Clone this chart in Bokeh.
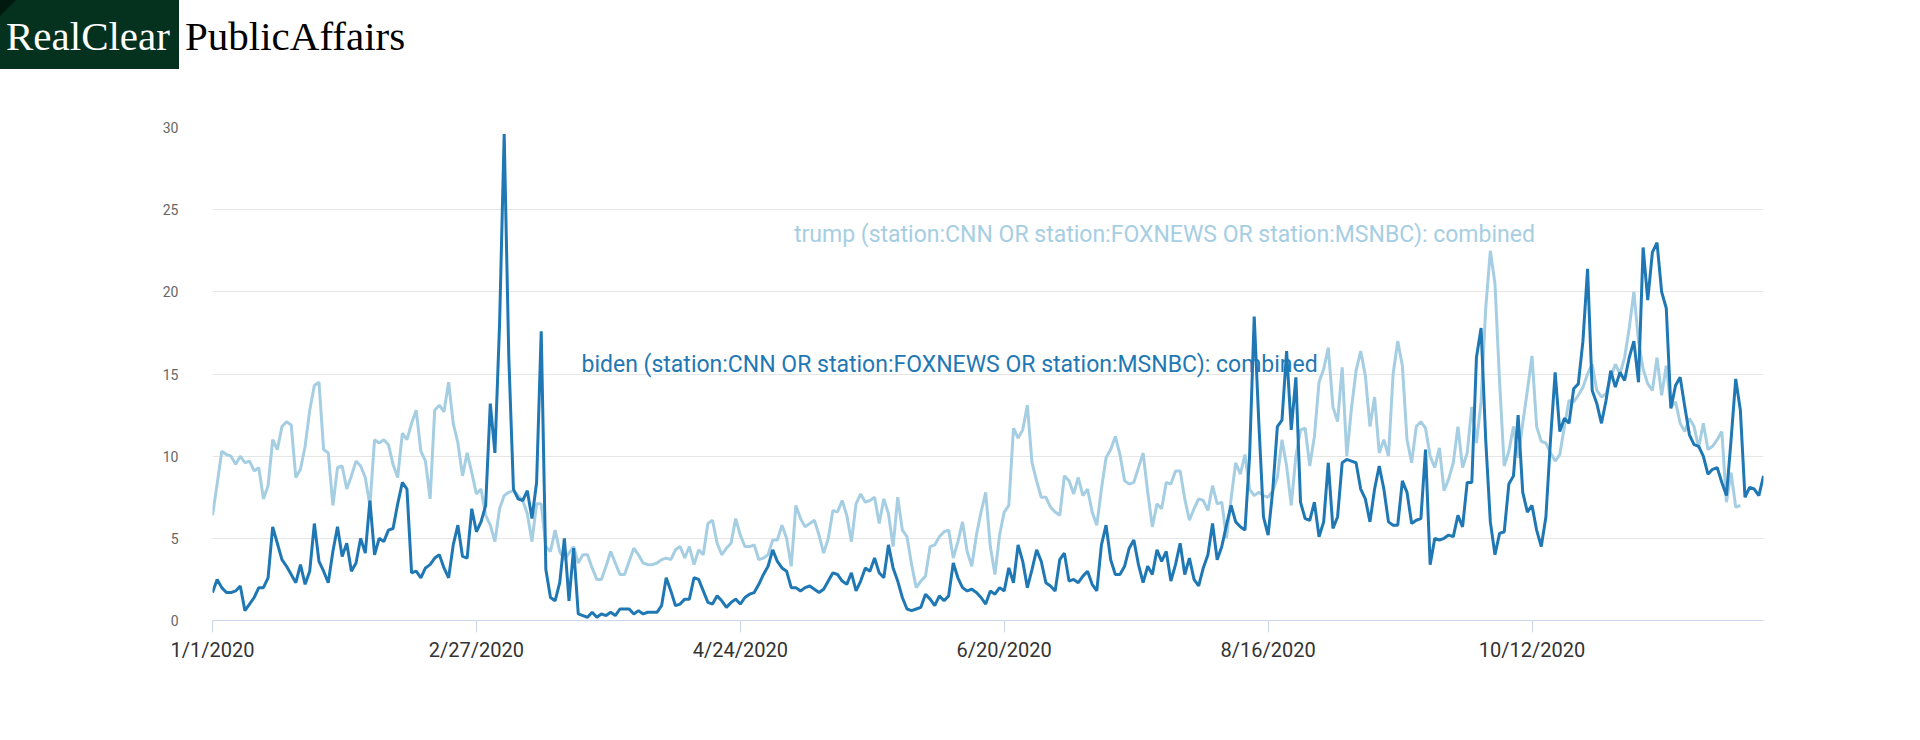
from bokeh.plotting import figure
from bokeh.models import Div, Label, FixedTicker, Range1d
from bokeh.layouts import column
from bokeh.embed import file_html
from bokeh.resources import INLINE

biden = [1.7, 2.5, 2.0, 1.7, 1.7, 1.8, 2.1, 0.6, 1.0, 1.4, 2.0, 2.0, 2.6, 5.7, 4.7, 3.7, 3.3, 2.8, 2.3, 3.4, 2.2, 3.0, 5.9, 3.6, 3.0, 2.3, 4.2, 5.7, 3.9, 4.7, 3.0, 3.5, 5.0, 4.1, 7.3, 4.0, 5.0, 4.8, 5.5, 5.6, 7.1, 8.4, 8.0, 2.9, 3.0, 2.6, 3.2, 3.4, 3.8, 4.0, 3.2, 2.6, 4.6, 5.8, 3.9, 3.8, 6.8, 5.4,
         6.0, 7.0, 13.2, 10.2, 18, 29.6, 16, 8, 7.4, 7.3, 7.9, 6.2, 8.4, 17.6, 3.1, 1.4, 1.2, 2.3, 5.0, 1.2, 4.4, 0.4, 0.3, 0.2, 0.5, 0.2, 0.4, 0.3, 0.5, 0.3, 0.7, 0.7, 0.7, 0.4, 0.6, 0.4, 0.5, 0.5, 0.5, 0.9, 2.6, 1.8, 0.9, 1.0, 1.3, 1.3, 2.6, 2.5, 1.8, 1.1, 1.0, 1.5, 1.2, 0.8, 1.1, 1.3, 1.0, 1.4, 1.6, 1.7, 2.2, 2.8, 3.3, 4.3, 3.6, 3.2, 3.0, 2.0, 2.0, 1.8, 2.0, 2.1, 1.9, 1.7, 1.9, 2.4, 2.9, 2.8, 2.4, 2.2, 2.9, 1.8, 2.4, 3.2, 3.0, 3.8, 2.9, 2.6, 4.6, 3.2, 2.4, 1.4, 0.7, 0.6, 0.7, 0.8, 1.6, 1.3, 0.9, 1.5, 1.2, 1.5, 3.5, 2.6, 2.0, 1.8, 1.9, 1.7, 1.4, 1.0, 1.8, 1.6, 2.0, 1.8, 3.2, 2.3, 4.6, 3.6, 2.0, 3.1, 4.3, 3.6, 2.3, 2.1, 1.8, 3.7, 4.1, 2.4, 2.5, 2.3, 2.7, 3.0, 2.2, 1.8, 4.6, 5.8, 3.7, 2.8, 2.8, 3.3, 4.4, 4.9, 3.4, 2.3, 3.3, 2.8, 4.3, 3.6, 4.2, 2.4, 3.4, 4.7, 2.8, 3.8, 2.5, 2.1, 3.2, 4.0, 5.9, 3.7, 4.5, 5.8, 7.0, 6.0, 5.7, 5.5, 10.0, 18.5, 12.0, 6.3, 5.2, 7.9, 11.8, 12.2, 16.4, 11.6, 14.8, 7.2, 6.2, 6.1, 7.2, 5.1, 6.0, 9.6, 5.6, 6.3, 9.6, 9.8, 9.7, 9.6, 8.0, 7.4, 6.0, 8.0, 9.4, 8.0, 6.0, 5.8, 5.8, 8.5, 7.8, 5.9, 6.1, 6.2, 10.4, 3.4, 5.0, 4.9, 5.0, 5.2, 5.1, 6.4, 5.7, 8.4, 8.4, 16.0, 17.8, 11.0, 6.0, 4.0, 5.3, 5.4, 8.3, 8.8, 12.5, 7.8, 6.6, 7.0, 5.5, 4.5, 6.3, 11.0, 15.1, 11.5, 12.3, 12.0, 14.1, 14.4, 17.0, 21.4, 14.0, 13.2, 12.0, 13.4, 15.2, 14.2, 15.1, 14.6, 16.0, 17.0, 14.5, 22.7, 19.5, 22.4, 23.0, 20.0, 19.0, 12.9, 14.3, 14.8, 13.0, 11.3, 10.7, 10.6, 10.0, 8.9, 9.2, 9.3, 8.4, 7.6, 11.0, 14.7, 12.8, 7.5, 8.1, 8.0, 7.6, 8.8]

trump = [6.4, 8.3, 10.3, 10.1, 10.0, 9.5, 10.0, 9.6, 9.7, 9.1, 9.3, 7.4, 8.2, 11.0, 10.4, 11.8, 12.1, 11.9, 8.7, 9.2, 10.6, 12.8, 14.3, 14.5, 10.4, 10.2, 7.0, 9.3, 9.4, 8.0, 8.8, 9.7, 9.4, 8.7, 7.0, 11.0, 10.8, 11.0, 10.7, 9.5, 8.7, 11.4, 11.0, 12.0, 12.8, 10.3, 9.7, 7.4, 12.8, 13.1, 12.7, 14.5, 12.0, 10.8, 8.8, 10.2, 9.0, 7.7, 8.0, 6.4, 5.8, 4.8, 6.8, 7.6, 7.8, 7.9, 7.6, 7.3, 6.5, 4.8, 7.1, 7.1, 4.5, 4.2, 5.5, 4.2, 3.7, 4.1, 4.5, 3.5, 4.0, 4.0, 3.2, 2.5, 2.5, 3.3, 4.2, 3.5, 2.8, 2.8, 3.6, 4.4, 4.0, 3.5, 3.4, 3.4, 3.5, 3.7, 3.8, 3.7, 4.3, 4.5, 3.8, 4.5, 3.4, 4.3, 4.0, 5.9, 6.1, 4.7, 4.0, 4.4, 4.7, 6.2, 5.2, 4.5, 4.5, 4.6, 3.7, 3.8, 4.0, 4.9, 4.9, 5.8, 5.0, 3.3, 7.0, 6.2, 5.7, 5.9, 6.1, 5.2, 4.1, 5.0, 6.7, 6.6, 7.3, 6.4, 4.8, 7.1, 7.7, 7.2, 7.3, 7.5, 5.9, 7.4, 6.5, 4.5, 7.5, 5.5, 5.1, 3.4, 2.0, 2.4, 2.7, 4.5, 4.6, 5.1, 5.4, 5.5, 3.8, 4.8, 6.0, 4.2, 3.3, 5.2, 6.6, 7.8, 4.5, 2.8, 5.2, 6.6, 7.0, 11.7, 11.1, 11.6, 13.1, 9.6, 8.5, 7.5, 7.5, 6.9, 6.6, 6.4, 8.8, 8.5, 7.7, 8.7, 7.6, 8.0, 6.6, 5.8, 8.0, 9.9, 10.4, 11.2, 10.1, 8.5, 8.3, 8.4, 9.3, 10.2, 7.8, 5.7, 7.1, 6.8, 8.4, 8.3, 9.1, 9.1, 7.4, 6.1, 6.8, 7.4, 7.3, 6.7, 8.2, 7.1, 7.2, 5.0, 7.4, 9.6, 8.9, 10.1, 8.0, 7.6, 7.8, 7.6, 7.5, 7.9, 8.7, 11.0, 9.4, 7.0, 10.0, 11.6, 11.7, 9.4, 11.2, 14.5, 15.3, 16.6, 13.0, 12.1, 15.4, 10.0, 12.9, 15.2, 16.4, 14.9, 11.8, 13.6, 10.2, 11.0, 10.0, 15.0, 17.0, 15.5, 11.0, 9.6, 11.8, 12.1, 11.7, 10.0, 9.3, 10.5, 7.9, 8.6, 9.6, 11.8, 9.3, 10.2, 13.0, 10.8, 13.3, 19.0, 22.5, 20.5, 14.5, 9.4, 10.3, 11.8, 9.9, 12.0, 14.0, 16.1, 11.8, 10.9, 10.8, 10.2, 9.7, 10.1, 11.8, 13.4, 13.3, 13.7, 14.2, 15.0, 15.6, 14.0, 13.6, 13.8, 14.8, 15.6, 15.0, 16.0, 17.8, 20.0, 17.0, 15.3, 14.4, 14.0, 16.0, 13.7, 15.5, 13.0, 13.3, 12.0, 11.5, 12.3, 11.8, 10.5, 12.0, 10.4, 10.6, 11.0, 11.5, 7.2, 9.0, 6.9, 7.0]

tick_days = [0, 57, 114, 171, 228, 285]
tick_labels = ["1/1/2020", "2/27/2020", "4/24/2020", "6/20/2020", "8/16/2020", "10/12/2020"]
y_ticks = [0, 5, 10, 15, 20, 25, 30]

n = max(len(biden), len(trump))
p = figure(width=1904, height=620, output_backend="svg", toolbar_location=None,
           x_range=Range1d(0, n - 1), y_range=Range1d(0, 30),
           min_border_left=212, min_border_right=141, min_border_top=54, min_border_bottom=73)
p.outline_line_color = None
p.line(list(range(len(trump))), trump, line_color="#a6cee3", line_width=3)
p.line(list(range(len(biden))), biden, line_color="#1f78b4", line_width=3)

p.xaxis.ticker = FixedTicker(ticks=tick_days)
p.xaxis.major_label_overrides = {d: l for d, l in zip(tick_days, tick_labels)}
p.xaxis.axis_line_color = "#ccd6eb"
p.xaxis.major_tick_line_color = "#ccd6eb"
p.xaxis.major_tick_out = 12
p.xaxis.major_tick_in = 0
p.xaxis.minor_tick_line_color = None
p.xaxis.major_label_text_font = "Roboto"
p.xaxis.major_label_text_font_size = "20px"
p.xaxis.major_label_text_color = "#333333"
p.xgrid.grid_line_color = None

p.yaxis.ticker = FixedTicker(ticks=y_ticks)
p.yaxis.axis_line_color = None
p.yaxis.major_tick_line_color = None
p.yaxis.minor_tick_line_color = None
p.yaxis.major_label_text_font = "Roboto"
p.yaxis.major_label_text_font_size = "14px"
p.yaxis.major_label_text_color = "#666666"
p.yaxis.major_label_standoff = 28
p.ygrid.grid_line_color = "#e6e6e6"

p.add_layout(Label(x=125.6, y=23.5, text="trump (station:CNN OR station:FOXNEWS OR station:MSNBC): combined",
                   text_color="#a6cee3", text_font="Roboto", text_font_size="23px",
                   text_baseline="middle"))
p.add_layout(Label(x=79.7, y=15.6, text="biden (station:CNN OR station:FOXNEWS OR station:MSNBC): combined",
                   text_color="#1f78b4", text_font="Roboto", text_font_size="23px",
                   text_baseline="middle"))

logo = Div(text=(
    '<div style="position:relative;height:79px;width:600px;margin:-8px 0 0 -8px;font-family:\'Liberation Serif\',serif;">'
    '<div style="position:absolute;left:0;top:0;width:182px;height:72px;background:#04321f;"></div>'
    '<div style="position:absolute;left:0;top:0;width:0;height:0;border-top:22px solid #011a10;border-right:22px solid transparent;"></div>'
    '<div style="position:absolute;left:9px;top:16px;font-size:41px;color:#ffffff;line-height:46px;">RealClear</div>'
    '<div style="position:absolute;left:188px;top:16px;font-size:41px;color:#000000;line-height:46px;">PublicAffairs</div>'
    '</div>'), width=600, height=63)

layout = column(logo, p, spacing=0)
open("out.html", "w").write(file_html(layout, INLINE))
